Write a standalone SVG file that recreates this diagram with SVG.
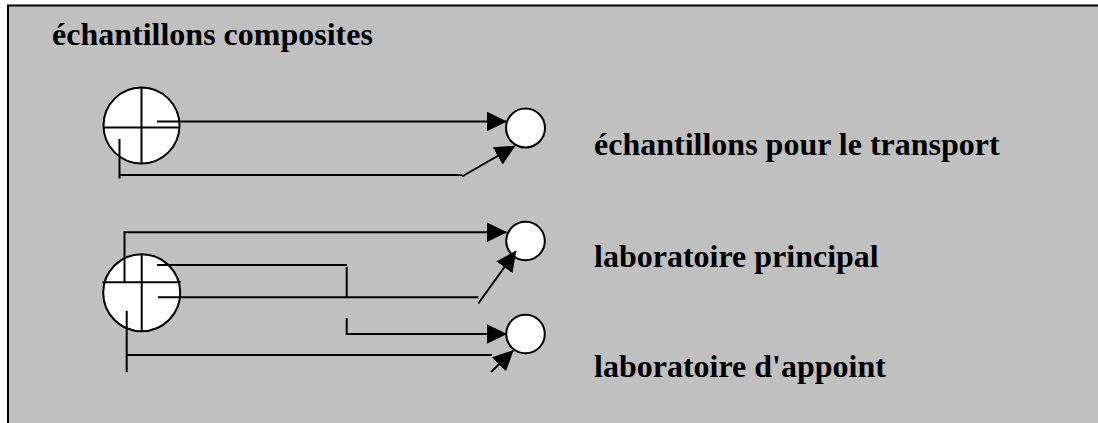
<svg xmlns="http://www.w3.org/2000/svg" width="1098" height="423" viewBox="0 0 1098 423">
<style>
.ln{fill:none;stroke:#000;stroke-width:2}
.big{fill:#fff;stroke:#000;stroke-width:2}
.sm{fill:#fff;stroke:#000;stroke-width:2}
.lbl{font-family:"Liberation Serif","Times New Roman",serif;font-weight:bold;font-size:32px;fill:#000}
</style>
<defs>
<marker id="ah" markerUnits="userSpaceOnUse" markerWidth="21" markerHeight="20" refX="20" refY="10" orient="auto" viewBox="0 0 21 20">
<path d="M0,0 L20.5,10 L0,20 z" fill="#000"/>
</marker>
</defs>
<rect x="0" y="0" width="1098" height="423" fill="#fff"/>
<rect x="8" y="5.5" width="1090" height="417.5" fill="#c0c0c0"/>
<path d="M7,5.5 H1098 M8,5 V423" stroke="#000" stroke-width="2" fill="none"/>
<g id="title"><text class="lbl" x="52" y="45">échantillons composites</text></g>
<g id="composite1">
<circle class="big" cx="141.5" cy="125.5" r="38"/>
<path class="ln" d="M141.5,87.5 V163.5 M103.5,127.5 H179.5"/>
</g>
<g id="composite2">
<circle class="big" cx="141.7" cy="292.8" r="38.5"/>
<path class="ln" d="M141.7,254.3 V331.3 M102.5,282.3 H181"/>
</g>
<g id="transport">
<circle class="sm" cx="525.5" cy="128" r="19.5"/>
<text class="lbl" x="594" y="155">échantillons pour le transport</text>
</g>
<g id="principal">
<circle class="sm" cx="525.5" cy="241" r="19.3"/>
<text class="lbl" x="594" y="267">laboratoire principal</text>
</g>
<g id="appoint">
<circle class="sm" cx="525.5" cy="334" r="19.3"/>
<text class="lbl" x="594" y="377">laboratoire d'appoint</text>
</g>
<g id="connectors">
<path class="ln" d="M157,121.5 H506.5" marker-end="url(#ah)"/>
<path class="ln" d="M119.5,139 V178.5 M119.5,175 H462"/>
<path class="ln" d="M462,176.5 L515,146" marker-end="url(#ah)"/>
<path class="ln" d="M124.5,282 V232.3 H506.5" marker-end="url(#ah)"/>
<path class="ln" d="M157,265 H347 M346.7,267 V298"/>
<path class="ln" d="M158,297.3 H478.3"/>
<path class="ln" d="M478.3,303.5 L516,251" marker-end="url(#ah)"/>
<path class="ln" d="M346.7,318.3 V334 H506.5" marker-end="url(#ah)"/>
<path class="ln" d="M126.7,310.7 V372.3 M126.7,355 H492"/>
<path class="ln" d="M491,372 L513.3,350.5" marker-end="url(#ah)"/>
</g>
</svg>
